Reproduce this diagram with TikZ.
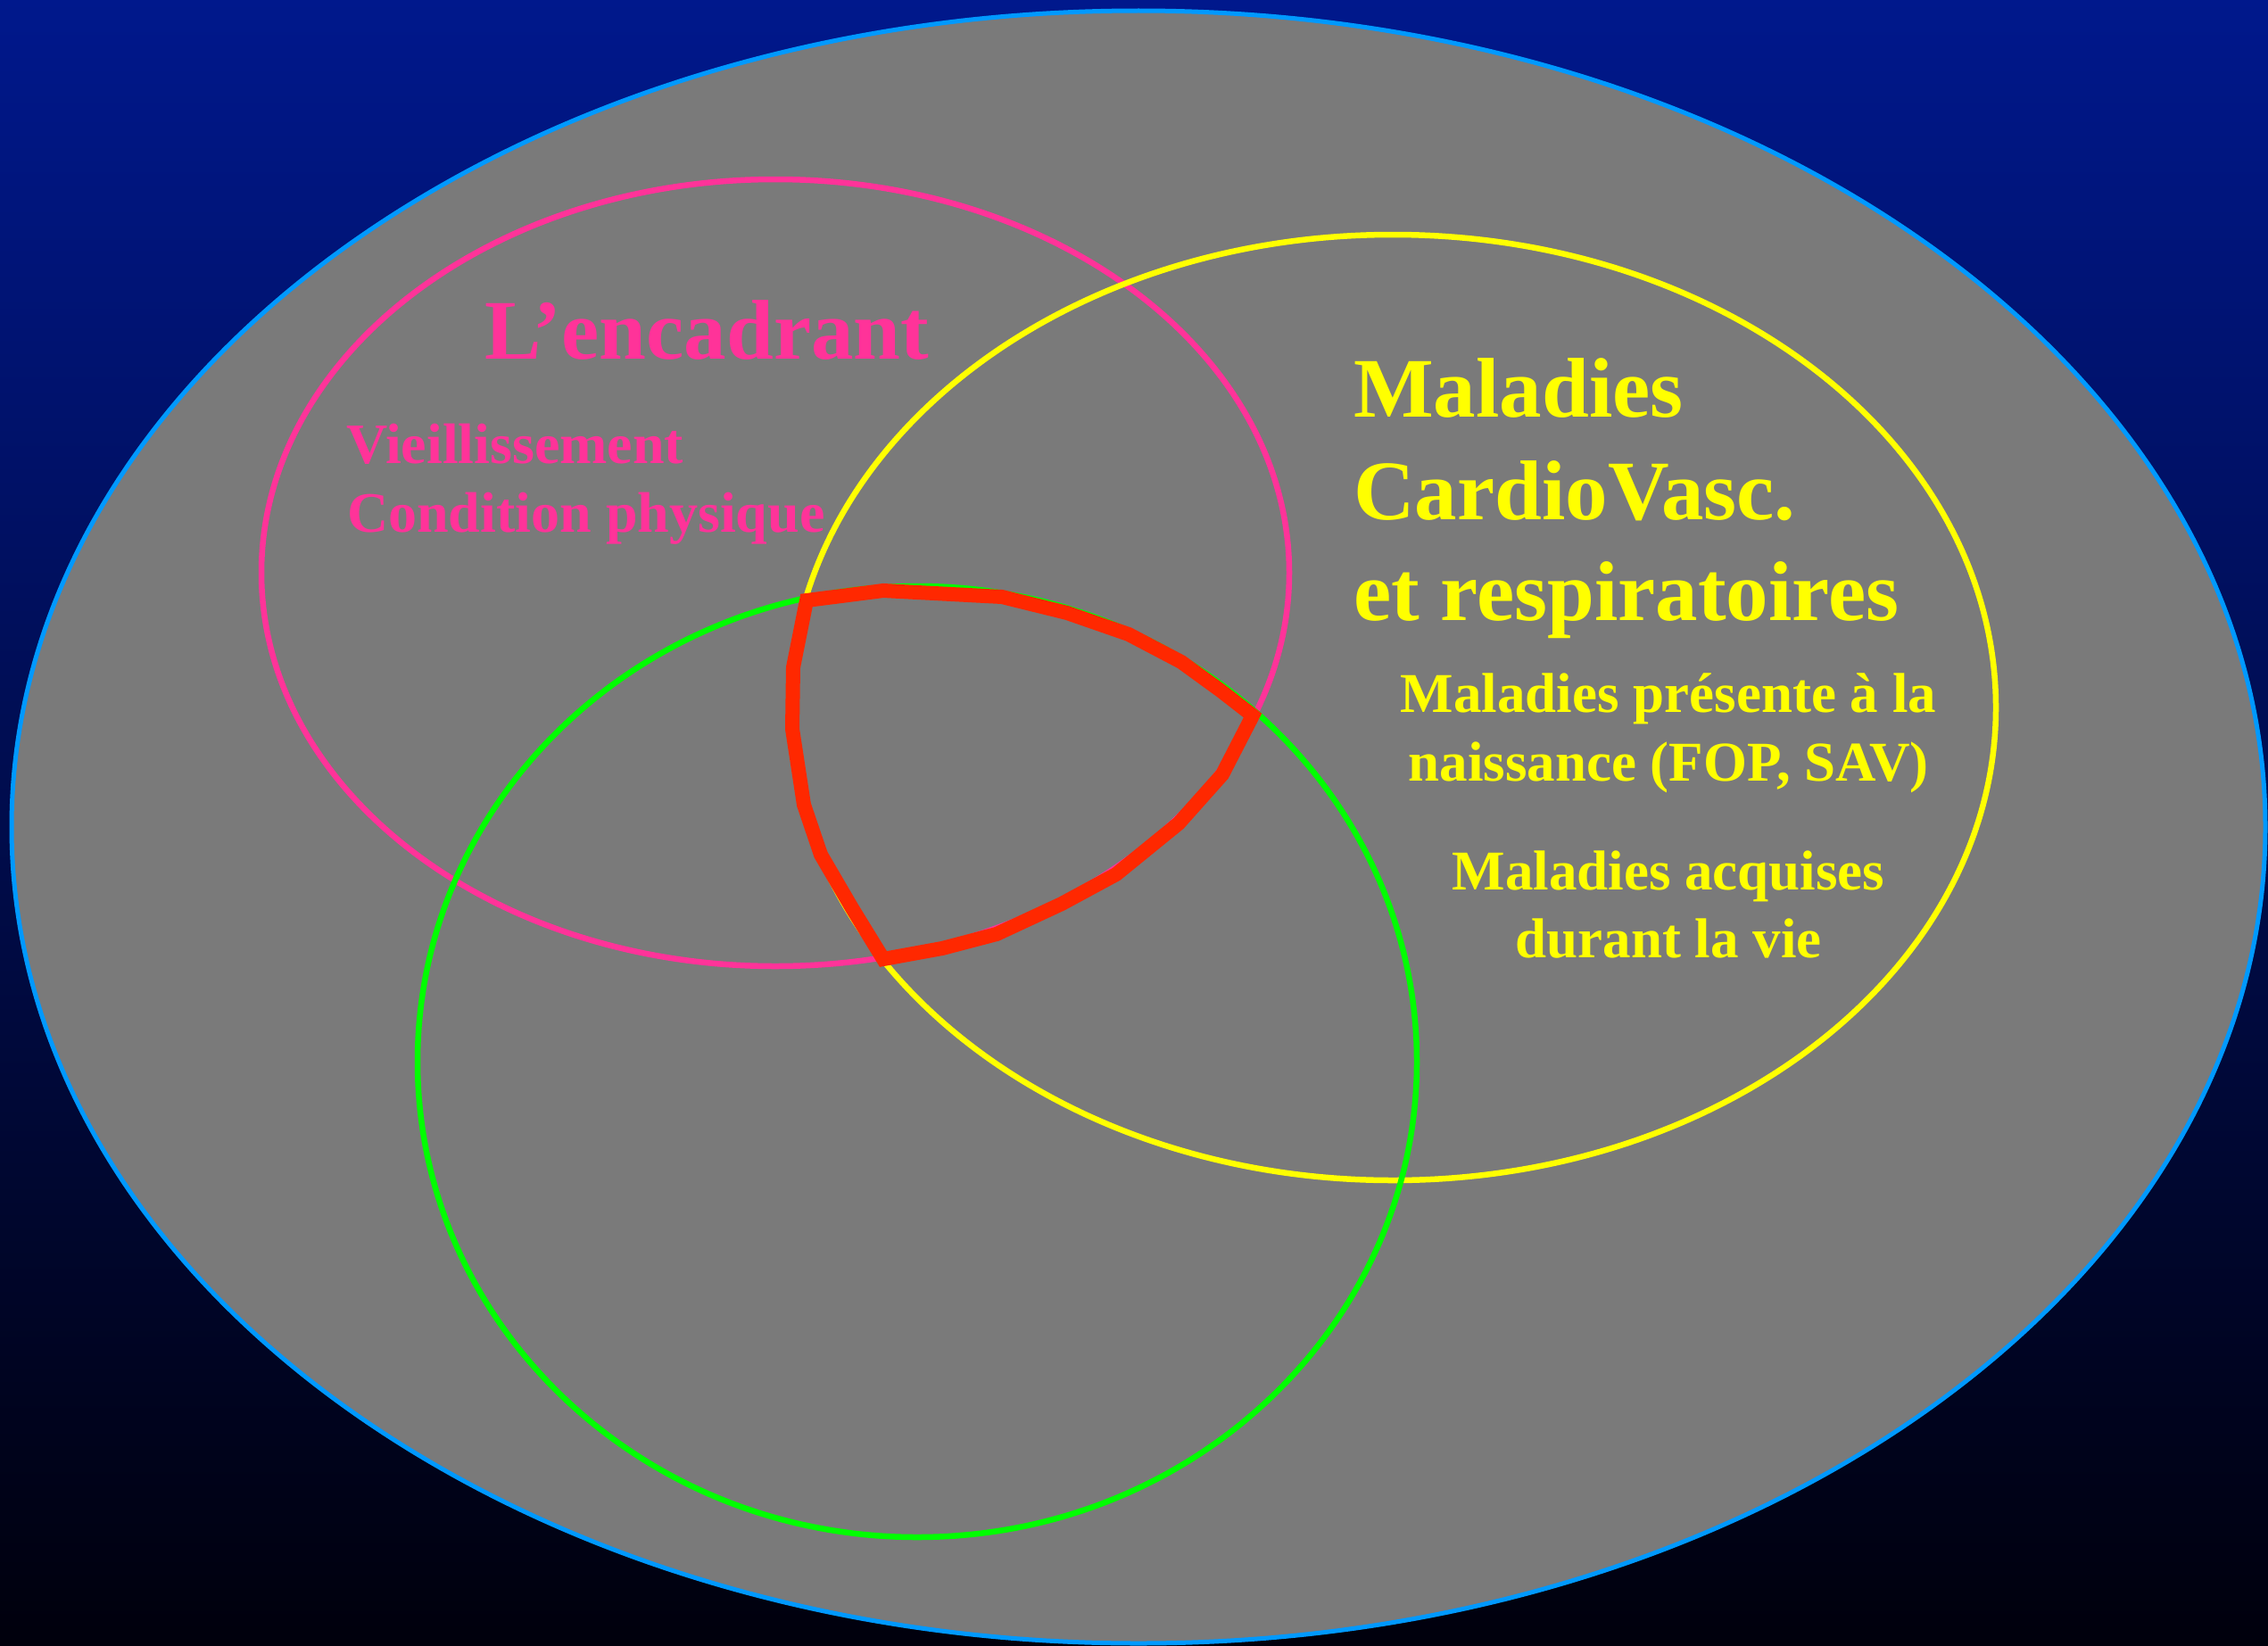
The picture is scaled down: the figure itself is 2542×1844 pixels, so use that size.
\documentclass[tikz,border=0pt]{standalone}
\usepackage{fontspec}
\setmainfont{Liberation Serif}
\definecolor{bgtop}{RGB}{0,24,140}
\definecolor{bgbot}{RGB}{0,0,12}
\definecolor{pad}{RGB}{122,122,122}
\definecolor{edgeblue}{RGB}{0,153,255}
\definecolor{pinkc}{RGB}{255,51,153}
\definecolor{yellowc}{RGB}{255,255,0}
\definecolor{greenc}{RGB}{0,255,0}
\definecolor{redc}{RGB}{255,40,0}
\tikzset{
  ring/.style={line width=6.5pt},
  big/.style={font=\bfseries\fontsize{95}{114}\selectfont, inner sep=0pt},
  mid/.style={font=\bfseries\fontsize{64}{77}\selectfont, inner sep=0pt},
  small/.style={font=\bfseries\fontsize{63}{77}\selectfont, inner sep=0pt},
}
\begin{document}
\begin{tikzpicture}[x=1pt,y=-1pt]
\useasboundingbox (0,0) rectangle (2542,1844);
\shade[top color=bgtop, bottom color=bgbot] (0,0) rectangle (2542,1844);
% outer ellipse
\draw[fill=pad, draw=edgeblue, line width=5pt] (1276,927) ellipse [x radius=1263pt, y radius=915pt];
% three sets
\draw[ring, pinkc] (869,642) ellipse [x radius=576pt, y radius=441pt];
\draw[ring, yellowc] (1561,793) ellipse [x radius=676pt, y radius=530pt];
\draw[ring, greenc] (1028,1190) ellipse [x radius=560pt, y radius=533pt];
% intersection outline
\draw[redc, line width=16pt, line join=miter]
  (904,673) -- (990,662) -- (1123,669) -- (1196,687) -- (1265,711) -- (1324,742)
  -- (1368,774) -- (1404,802) -- (1370,868) -- (1321,923) -- (1251,980)
  -- (1190,1013) -- (1117,1047) -- (1056,1063) -- (990,1075) -- (955,1018)
  -- (920,958) -- (901,902) -- (888,817) -- (889,748) -- cycle;
% texts
\node[big, pinkc, anchor=base west] (enc) at (543,402) {L’encadrant};
\node[mid, pinkc, anchor=base west] (vie) at (388,519) {Vieillissement};
\node[mid, pinkc, anchor=base west] (cond) at (389,596) {Condition physique};
\node[big, yellowc, anchor=base west] (mal1) at (1517,467) {Maladies};
\node[big, yellowc, anchor=base west] (mal2) at (1517,582) {CardioVasc.};
\node[big, yellowc, anchor=base west] (mal3) at (1517,695) {et respiratoires};
\node[small, yellowc, anchor=base] (nai1) at (1870,798) {Maladies présente à la};
\node[small, yellowc, anchor=base] (nai2) at (1870,875) {naissance (FOP, SAV)};
\node[small, yellowc, anchor=base] (acq1) at (1870,997) {Maladies acquises};
\node[small, yellowc, anchor=base] (acq2) at (1870,1073) {durant la vie};
\end{tikzpicture}
\end{document}
